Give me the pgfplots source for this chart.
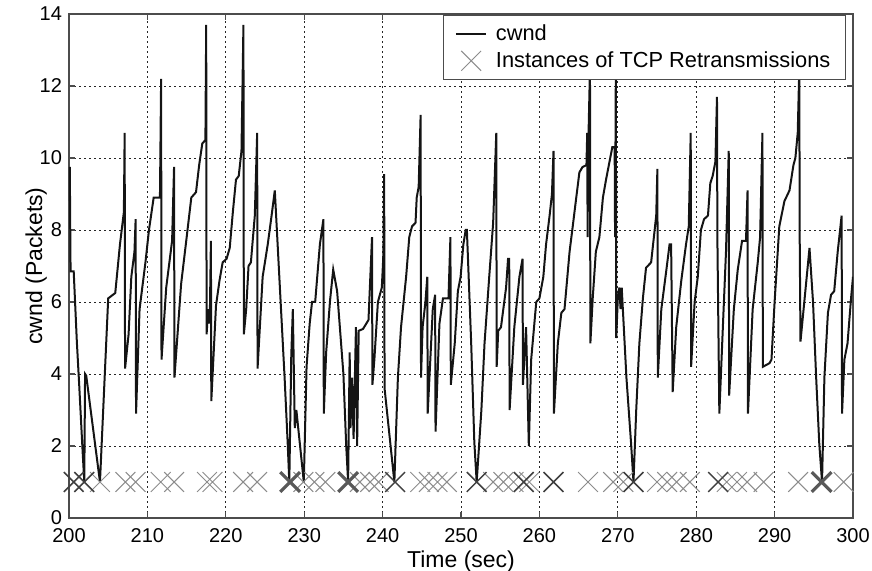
\documentclass[border=0pt]{standalone}
\usepackage{pgfplots}
\pgfplotsset{compat=1.18}
\usepackage{fontspec}
\setmainfont{Liberation Sans}
\begin{document}
\begin{tikzpicture}
\begin{axis}[
  scale only axis, width=392pt, height=252pt,
  xmin=200, xmax=300, ymin=0, ymax=14,
  xtick={200,210,...,300}, ytick={0,2,...,14},
  xtick pos=both, ytick pos=both,
  xticklabel pos=lower, yticklabel pos=left,
  grid=major,
  major grid style={black!85, line width=0.45pt, dash pattern=on 1.2pt off 1.3pt},
  tick align=inside, major tick length=3pt,
  axis line style={black!70, line width=0.6pt},
  tick style={black!70, line width=0.6pt},
  xlabel={Time (sec)}, ylabel={cwnd (Packets)},
  label style={font=\fontsize{11.5}{13}\selectfont},
  tick label style={font=\fontsize{10}{11}\selectfont},
  xticklabel style={yshift=-1.5pt},
  xlabel style={at={(axis description cs:0.5,-0.0873)}, anchor=center},
  ylabel style={at={(axis description cs:-0.042,0.5)}, anchor=center},
  /pgf/number format/assume math mode=true,
  /pgf/number format/1000 sep={},
  legend style={at={(0.991,0.998)}, anchor=north east, draw=black!70, line width=0.6pt,
    font=\fontsize{10.9}{12}\selectfont, row sep=0pt, inner xsep=5.5pt, inner ysep=2.5pt,
    /tikz/every odd column/.append style={column sep=2.5pt}},
  legend cell align=left,
  legend image code/.code={\draw[mark repeat=2,mark phase=2,#1] plot coordinates {(0cm,0cm) (0.27cm,0cm) (0.53cm,0cm)};},
]
\addplot[black!92, line width=1pt] coordinates {
(200.0,8.8) (200.1,9.75) (200.2,6.85) (200.6,6.85) (201.0,4.9) (201.3,3.7) (201.7,2.0) (201.95,1.0)
(202.05,4.0) (202.2,3.95) (203.95,1.0) (205.0,6.1) (205.9,6.25) (206.1,6.7) (206.5,7.6) (207.0,8.5)
(207.1,10.7) (207.15,4.15) (207.6,5.1) (207.95,6.7) (208.35,7.4) (208.5,8.3) (208.55,2.9) (209.0,5.8)
(209.75,7.1) (210.2,8.0) (210.8,8.9) (211.6,8.9) (211.75,12.2) (211.8,4.4) (212.4,6.4) (213.15,7.7)
(213.4,9.75) (213.45,3.9) (214.3,6.5) (214.9,7.6) (215.6,8.9) (216.2,9.05) (216.6,9.8) (217.0,10.4)
(217.4,10.5) (217.5,13.7) (217.55,5.1) (217.75,5.8) (217.95,5.4) (218.1,7.7) (218.15,3.25) (218.75,5.9)
(219.2,6.6) (219.6,7.1) (220.1,7.2) (220.5,7.5) (220.9,8.5) (221.3,9.4) (221.65,9.5) (222.0,10.2)
(222.25,13.7) (222.3,5.1) (222.6,5.8) (222.9,7.0) (223.2,7.1) (223.7,8.4) (224.0,10.7) (224.05,4.15)
(224.7,6.7) (225.35,7.6) (225.9,8.5) (226.25,9.1) (226.85,6.6) (227.5,3.9) (227.9,2.05) (228.1,1.0)
(228.35,4.5) (228.55,5.8) (228.8,2.5) (229.0,3.0) (229.95,1.0) (230.3,4.2) (230.7,5.4) (231.0,6.0)
(231.4,6.0) (232.0,7.6) (232.45,8.3) (232.5,2.9) (232.8,4.6) (233.3,6.05) (233.7,6.9) (234.2,6.3)
(235.0,4.0) (235.35,2.05) (235.6,1.0) (235.8,4.6) (235.9,2.5) (236.1,3.9) (236.3,2.2) (236.6,5.3)
(236.75,2.0) (236.95,5.2) (237.5,5.25) (238.2,5.5) (238.65,7.8) (238.7,3.7) (238.95,4.4) (239.4,6.0)
(239.9,6.4) (240.1,7.3) (240.2,9.55) (240.25,3.6) (241.5,1.0) (241.95,3.9) (242.35,5.3) (243.0,6.7)
(243.4,7.8) (243.75,8.1) (244.2,8.2) (244.35,8.9) (244.6,9.2) (244.85,11.2) (244.9,3.9) (245.1,5.3)
(245.45,5.97) (245.7,6.7) (245.75,2.9) (246.4,5.8) (246.7,6.2) (246.75,2.4) (247.25,5.4) (247.7,6.1)
(248.4,6.1) (248.65,7.8) (248.7,3.7) (249.2,4.85) (249.6,6.3) (249.95,6.7) (250.3,7.6) (250.6,8.0)
(250.75,8.0) (251.3,4.85) (251.7,2.1) (252.0,1.0) (252.6,3.0) (253.0,4.85) (253.6,6.7) (254.1,8.2)
(254.5,10.7) (254.55,4.2) (254.75,5.2) (255.1,5.3) (255.75,6.4) (256.0,7.2) (256.15,7.2) (256.2,3.0)
(256.8,5.3) (257.45,6.7) (257.85,7.2) (257.9,3.7) (258.3,5.3) (258.65,2.0) (258.95,4.4) (259.6,6.0)
(260.0,6.1) (260.5,6.7) (260.85,7.6) (261.3,8.4) (261.6,9.0) (261.8,10.2) (261.85,2.9) (262.35,4.85)
(262.8,5.7) (263.2,5.8) (263.85,7.4) (264.25,8.1) (264.7,8.9) (265.1,9.6) (265.5,9.75) (266.0,9.8)
(266.1,10.7) (266.15,7.8) (266.2,10.0) (266.45,12.5) (266.5,4.85) (266.8,6.1) (267.2,7.4) (267.65,7.8)
(268.1,8.9) (268.5,9.4) (268.9,9.85) (269.3,10.3) (269.6,10.3) (269.65,7.8) (269.7,10.2) (269.75,12.5)
(269.8,5.0) (270.0,6.1) (270.2,6.4) (270.35,5.8) (270.5,6.4) (271.1,3.9) (271.7,2.05) (272.0,1.0)
(272.35,3.0) (272.75,4.85) (273.2,6.1) (273.6,6.95) (274.25,7.1) (274.5,7.6) (274.9,8.4) (275.05,9.7)
(275.1,3.9) (275.55,5.8) (276.2,6.9) (276.6,7.6) (276.8,7.6) (277.0,3.5) (277.45,5.3) (278.1,6.6)
(278.7,7.6) (279.05,8.1) (279.3,10.7) (279.35,4.2) (279.8,6.0) (280.2,6.7) (280.6,8.0) (281.0,8.3)
(281.5,8.4) (281.8,9.3) (282.1,9.5) (282.45,9.9) (282.65,11.7) (282.7,7.8) (282.95,2.9) (283.4,5.3)
(283.8,7.4) (284.15,10.2) (284.2,3.4) (284.8,5.8) (285.3,6.9) (285.85,7.7) (286.35,7.7) (286.55,9.1)
(286.6,2.9) (287.2,5.8) (287.85,7.1) (288.15,7.8) (288.45,10.7) (288.5,4.2) (289.35,4.3) (289.6,4.4)
(290.0,6.0) (290.6,8.1) (291.25,8.8) (291.9,9.1) (292.4,9.8) (292.65,10.0) (292.95,10.7) (293.15,12.5)
(293.2,7.8) (293.3,4.9) (294.45,7.5) (294.9,6.0) (295.3,3.9) (295.7,2.05) (296.05,1.0) (296.35,3.9)
(296.8,5.7) (297.2,6.2) (297.6,6.3) (298.05,7.4) (298.55,8.4) (298.6,2.9) (298.9,4.4) (299.3,4.85)
(299.75,6.1) (300.0,6.7)
};
\addlegendentry{cwnd}
\addplot[only marks, mark=x, mark size=7pt, color=black!45, mark options={line width=0.5pt}] coordinates {
(203.95,1) (207.2,1) (208.5,1) (211.7,1) (213.4,1) (217.6,1) (218.3,1) (222.2,1) (224.0,1)
(229.9,1) (231.3,1) (232.7,1) (237.1,1) (238.4,1) (239.5,1) (244.8,1) (245.9,1) (247.0,1) (248.2,1)
(254.1,1) (255.4,1) (256.7,1) (258.7,1) (266.2,1) (269.4,1) (270.7,1) (275.0,1) (276.3,1) (277.5,1)
(279.2,1) (283.9,1) (285.2,1) (286.5,1) (288.6,1) (293.0,1) (298.8,1)
};
\addlegendentry{Instances of TCP Retransmissions}
\addplot[only marks, mark=x, mark size=7pt, color=black!75, mark options={line width=0.75pt}, forget plot] coordinates {
(200.6,1) (201.95,1) (241.6,1) (252.0,1) (258.0,1) (261.8,1) (272.0,1) (282.8,1)
};
\addplot[only marks, mark=x, mark size=7pt, color=black!65, mark options={line width=1.6pt}, forget plot] coordinates {
(228.2,1) (235.6,1) (296.0,1)
};
\end{axis}
\pgfresetboundingbox
\useasboundingbox ([shift={(-34.5pt,-26.5pt)}]current axis.south west) rectangle ([shift={(9.5pt,7pt)}]current axis.north east);
\end{tikzpicture}
\end{document}
